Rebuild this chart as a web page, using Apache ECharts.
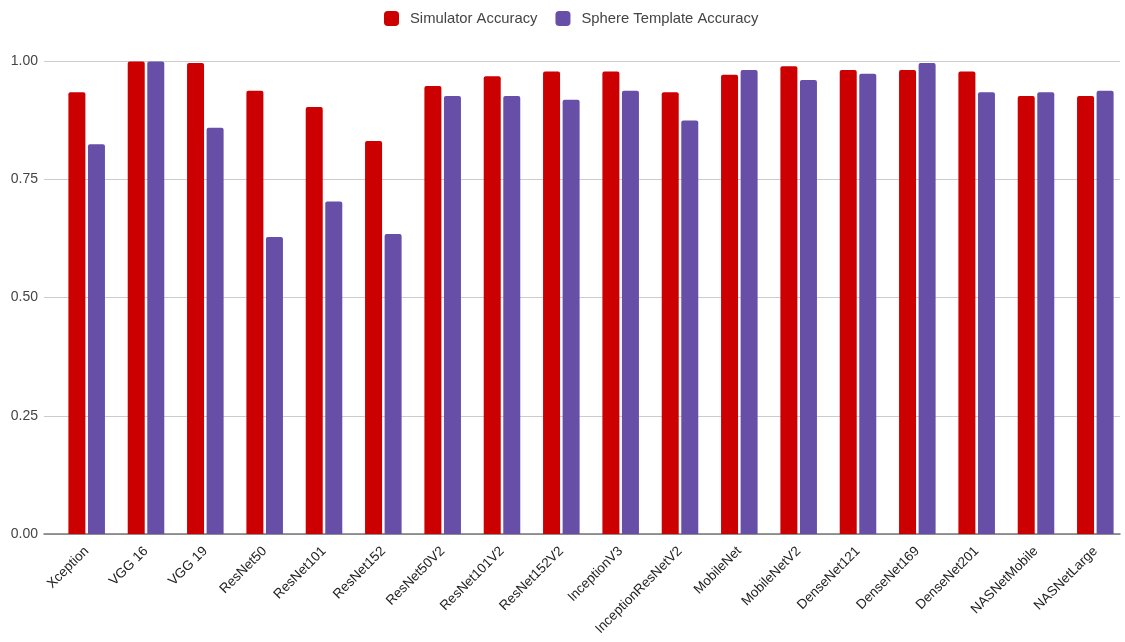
<!DOCTYPE html>
<html>
<head>
<meta charset="utf-8">
<script src="https://cdn.jsdelivr.net/npm/echarts@6/dist/echarts.min.js"></script>
<style>
  html, body { margin: 0; padding: 0; background: #fff; }
  #chart { width: 1125px; height: 642px; }
</style>
</head>
<body>
<div id="chart"></div>
<script>
// Model names along the x axis
const models = ['Xception', 'VGG 16', 'VGG 19', 'ResNet50', 'ResNet101', 'ResNet152',
  'ResNet50V2', 'ResNet101V2', 'ResNet152V2', 'InceptionV3', 'InceptionResNetV2',
  'MobileNet', 'MobileNetV2', 'DenseNet121', 'DenseNet169', 'DenseNet201',
  'NASNetMobile', 'NASNetLarge'];

// Accuracy per model
const simulatorAccuracy = [0.934, 0.999, 0.996, 0.937, 0.903, 0.831,
  0.947, 0.968, 0.978, 0.978, 0.934,
  0.971, 0.989, 0.981, 0.981, 0.978,
  0.926, 0.926];
const sphereTemplateAccuracy = [0.824, 0.999, 0.859, 0.628, 0.703, 0.634,
  0.926, 0.926, 0.918, 0.937, 0.874,
  0.981, 0.960, 0.973, 0.996, 0.934,
  0.934, 0.937];

const seriesNames = ['Simulator Accuracy', 'Sphere Template Accuracy'];
const yTicks = [0, 0.25, 0.5, 0.75, 1.0];

const chart = echarts.init(document.getElementById('chart'));
const font = 'Liberation Sans, Arial, sans-serif';

const yCommon = { type: 'value', min: 0, max: 1, interval: 0.25 };

chart.setOption({
  animation: false,
  color: ['#cc0000', '#674ea7'],
  legend: {
    top: 6,
    left: 379,
    itemWidth: 15,
    itemHeight: 15,
    itemGap: 18,
    icon: 'roundRect',
    textStyle: { fontFamily: font, fontSize: 14.8, color: '#444', padding: [0, 0, 0, 6] },
    data: seriesNames
  },
  // grid 0 carries the value scale, gridlines and baseline; grid 1 carries the bars
  grid: [
    { left: 44, right: 5, top: 61, bottom: 108 },
    { left: 57, right: -3, top: 61, bottom: 108 }
  ],
  xAxis: [
    {
      gridIndex: 0,
      type: 'category',
      data: models,
      axisTick: { show: false },
      axisLabel: { show: false },
      axisLine: { lineStyle: { color: '#777', width: 1.5 } }
    },
    {
      gridIndex: 1,
      type: 'category',
      data: models,
      axisTick: { show: false },
      axisLine: { show: false },
      axisLabel: {
        rotate: 45,
        interval: 0,
        margin: 15,
        fontFamily: font,
        fontSize: 13.5,
        color: '#222'
      }
    }
  ],
  yAxis: [
    Object.assign({}, yCommon, {
      gridIndex: 0,
      axisLine: { show: false },
      axisTick: { show: false },
      splitLine: { lineStyle: { color: '#cccccc' } },
      axisLabel: {
        margin: 6,
        fontFamily: font,
        fontSize: 14,
        color: '#444',
        formatter: v => yTicks.includes(v) ? v.toFixed(2) : ''
      }
    }),
    Object.assign({}, yCommon, {
      gridIndex: 1,
      axisLine: { show: false },
      axisTick: { show: false },
      splitLine: { show: false },
      axisLabel: { show: false }
    })
  ],
  series: [
    {
      name: seriesNames[0],
      type: 'bar',
      xAxisIndex: 1,
      yAxisIndex: 1,
      data: simulatorAccuracy,
      barWidth: 17,
      barGap: '15%',
      itemStyle: { borderRadius: [2, 2, 0, 0] }
    },
    {
      name: seriesNames[1],
      type: 'bar',
      xAxisIndex: 1,
      yAxisIndex: 1,
      data: sphereTemplateAccuracy,
      barWidth: 17,
      barGap: '15%',
      itemStyle: { borderRadius: [2, 2, 0, 0] }
    }
  ]
});
</script>
</body>
</html>
